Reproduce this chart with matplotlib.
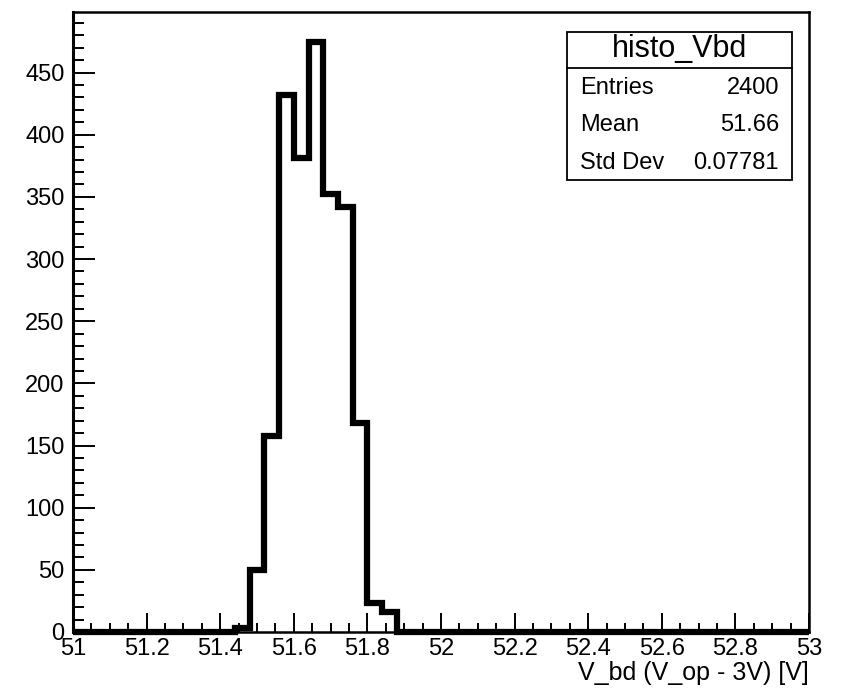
import matplotlib.pyplot as plt
from matplotlib.patches import Rectangle
from matplotlib.ticker import MultipleLocator, FormatStrFormatter
import numpy as np

plt.rcParams['font.family'] = ['Liberation Sans', 'DejaVu Sans']

# histogram: 50 bins from 51 to 53
x_min, x_max, n_bins = 51.0, 53.0, 50
counts = [0, 0, 0, 0, 0, 0, 0, 0, 0, 0,
          0, 3, 50, 158, 432, 381, 475, 352, 342, 168,
          23, 16, 0, 0, 0, 0, 0, 0, 0, 0,
          0, 0, 0, 0, 0, 0, 0, 0, 0, 0,
          0, 0, 0, 0, 0, 0, 0, 0, 0, 0]
stat_names = ["Entries", "Mean", "Std Dev"]
stat_values = ["2400", "51.66", "0.07781"]
hist_name = "histo_Vbd"
x_title = "V_bd (V_op - 3V) [V]"

edges = np.linspace(x_min, x_max, n_bins + 1)

fig = plt.figure(figsize=(8.45, 6.88), dpi=100)
ax = fig.add_axes([73 / 845, 56 / 688, 736 / 845, 620 / 688])

st = ax.stairs(counts, edges, color='black', lw=4.5, baseline=0, clip_on=False)
st.set_joinstyle('miter')
st.set_capstyle('butt')

ax.set_xlim(x_min, x_max)
ax.set_ylim(0, 1.05 * max(counts))

ax.xaxis.set_major_locator(MultipleLocator(0.2))
ax.xaxis.set_minor_locator(MultipleLocator(0.05))
ax.yaxis.set_major_locator(MultipleLocator(50))
ax.yaxis.set_minor_locator(MultipleLocator(10))
ax.xaxis.set_major_formatter(FormatStrFormatter('%g'))

ax.tick_params(which='both', direction='in', top=False, right=False, width=1.4,
               labelsize=17)
ax.tick_params(axis='x', which='major', length=13.5, pad=4)
ax.tick_params(axis='x', which='minor', length=6.5)
ax.tick_params(axis='y', which='major', length=15.5, pad=6)
ax.tick_params(axis='y', which='minor', length=8)

for s in ax.spines.values():
    s.set_linewidth(1.8)
ax.spines['left'].set_linewidth(2.2)

ax.set_xlabel(x_title, loc='right', fontsize=18, labelpad=1)

# stats box
bl, br = 567 / 845, 792 / 845
bt, bb = 1 - 32 / 688, 1 - 180 / 688
ydiv = 1 - 68 / 688
fig.add_artist(Rectangle((bl, bb), br - bl, bt - bb, transform=fig.transFigure,
                         facecolor='white', edgecolor='black', lw=1.3))
fig.add_artist(plt.Line2D([bl, br], [ydiv, ydiv], transform=fig.transFigure,
                          color='black', lw=1.3))
fig.text((bl + br) / 2, 1 - 49 / 688, hist_name, ha='center', va='center', fontsize=22)
row_y = [88, 125, 163]
for name, val, y in zip(stat_names, stat_values, row_y):
    fig.text(580 / 845, 1 - y / 688, name, ha='left', va='center', fontsize=17)
    fig.text(779 / 845, 1 - y / 688, val, ha='right', va='center', fontsize=17)

fig.savefig('out.png', dpi=100)
